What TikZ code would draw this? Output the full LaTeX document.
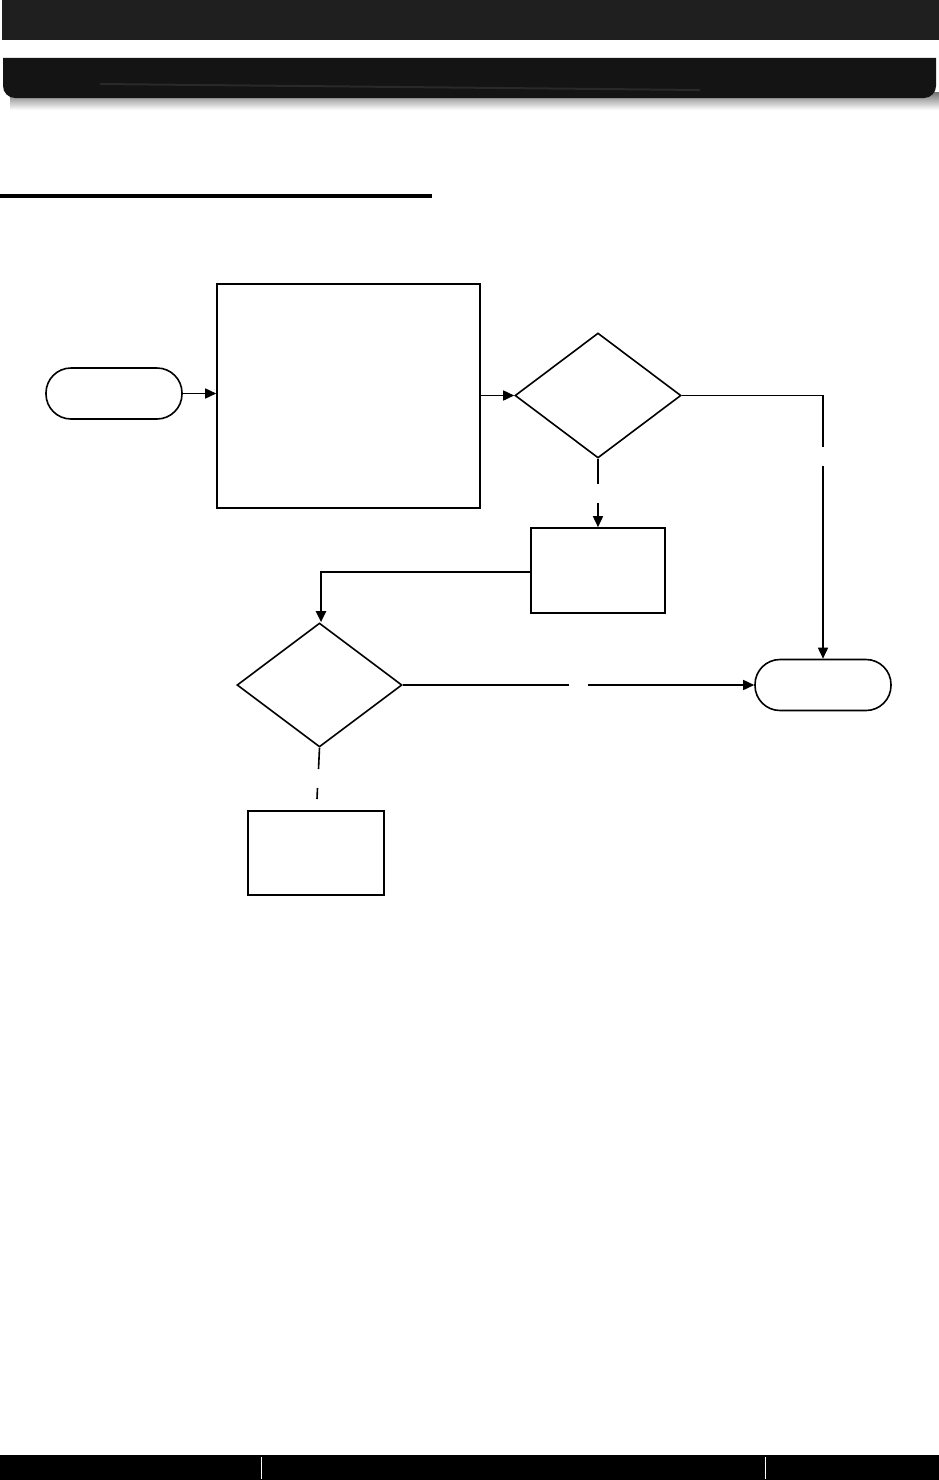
\documentclass[tikz,border=0pt]{standalone}
\usetikzlibrary{shapes.geometric,arrows.meta}
\begin{document}
\begin{tikzpicture}[x=1pt,y=-1pt,
  ln/.style={line width=1.6pt,black},
  boxnode/.style={draw,ln,rectangle,inner sep=0pt,fill=white},
  termnode/.style={draw,ln,rectangle,rounded corners=25pt,inner sep=0pt,fill=white},
  decnode/.style={draw,ln,diamond,inner sep=0pt,fill=white},
  arr/.style={ln,-{Triangle[length=11pt,width=10pt]}},
  plainln/.style={ln}
]
\useasboundingbox (0,0) rectangle (939,1480);
\fill[white] (0,0) rectangle (939,1480);
% header
\fill[black!88] (2,0) rectangle (939,40);
\shade[top color=black!55,bottom color=white] (10,92) rectangle (939,110);
\fill[black!92] (3,58) -- (936,58) [rounded corners=12pt] -- (936,98) -- (3,98) [sharp corners] -- cycle;
\draw[black!84,line width=2pt] (100,84) -- (700,90);
% rule
\fill[black] (0,194) rectangle (432,197.5);
% footer
\fill[black] (0,1455) rectangle (939,1480);
\draw[white,line width=0.8pt] (261,1457) -- (261,1479);
\draw[white,line width=0.8pt] (765,1457) -- (765,1479);
% nodes
\node[termnode,minimum width=136pt,minimum height=51pt] (start) at (114,393.5) {};
\node[boxnode,minimum width=263pt,minimum height=224pt] (big) at (348.5,396) {};
\node[decnode,minimum width=166pt,minimum height=125pt] (d1) at (598,395.5) {};
\node[boxnode,minimum width=134pt,minimum height=85pt] (box2) at (598,570.5) {};
\node[decnode,minimum width=165pt,minimum height=124pt] (d2) at (319.5,685) {};
\node[termnode,minimum width=136pt,minimum height=51pt] (end) at (823,685) {};
\node[boxnode,minimum width=136pt,minimum height=84pt] (box3) at (316,853) {};
% gap coordinates
\coordinate (g1a) at (823,447);
\coordinate (g1b) at (823,466);
\coordinate (g2a) at (598,484);
\coordinate (g2b) at (598,503);
\coordinate (g3a) at (569,685);
\coordinate (g3b) at (588,685);
\coordinate (g4a) at (318.5,769);
\coordinate (g4b) at (317.5,788);
\coordinate (g4c) at (317,799);
\coordinate (k1) at (321,572);
% connectors
\draw[arr] (start.east) -- (start.east -| big.west);
\draw[arr] (big.east |- d1.west) -- (d1.west);
\draw[plainln] (d1.east) -| (g1a);
\draw[arr] (g1b) -- (end.north);
\draw[plainln] (d1.south) -- (g2a);
\draw[arr] (g2b) -- (box2.north);
\draw[arr,line width=2.4pt] (box2.west |- k1) -- (k1) -- (k1 |- d2.north);
\draw[plainln] (d2.east) -- (g3a);
\draw[arr] (g3b) -- (end.west);
\draw[plainln] (d2.south) -- (g4a);
\draw[plainln] (g4b) -- (g4c);
\end{tikzpicture}
\end{document}
